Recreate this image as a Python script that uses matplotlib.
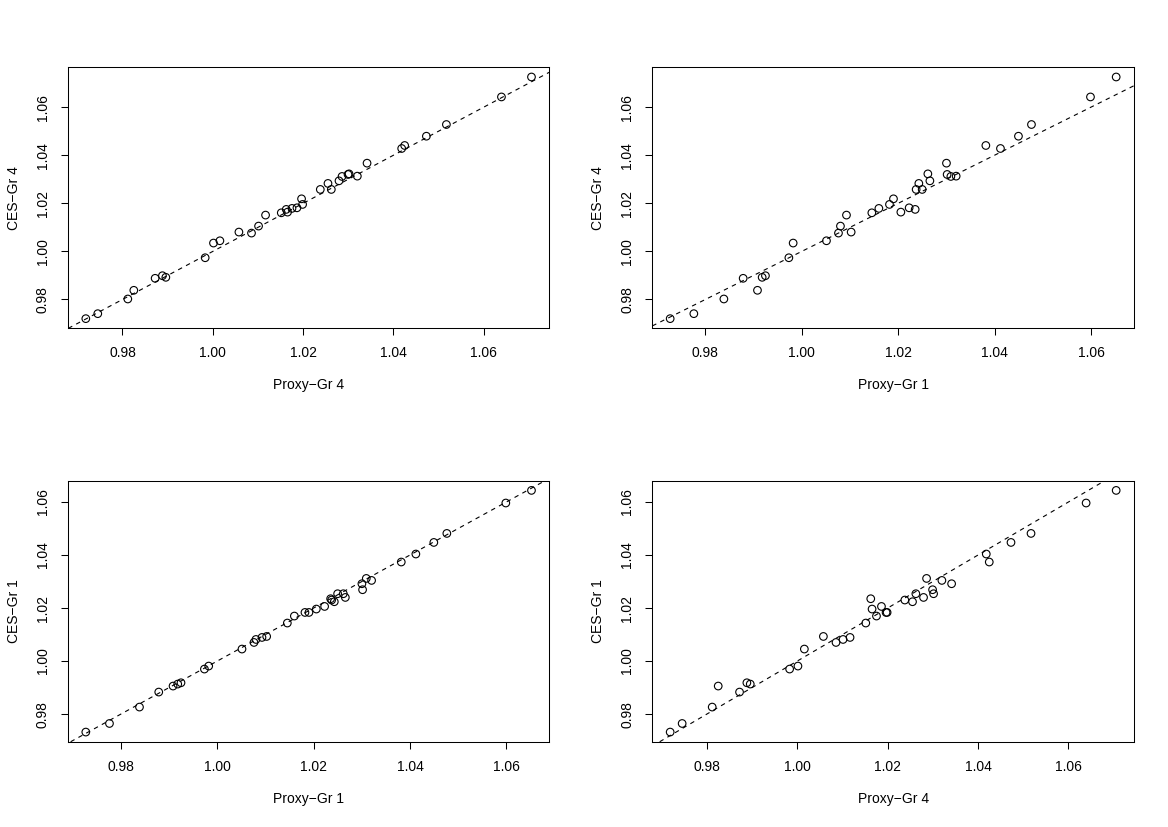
import matplotlib
matplotlib.use("Agg")
import matplotlib.pyplot as plt
import numpy as np

plt.rcParams['font.family'] = ['Liberation Sans', 'DejaVu Sans']

# one entry per observation, same order in all four arrays
proxy_gr4 = [0.97188, 0.97453, 0.98118, 0.98251, 0.98723, 0.98885, 0.98960, 0.99831, 1.00015,
             1.00157, 1.00578, 1.00857, 1.01013, 1.01168, 1.01516, 1.01626, 1.01655, 1.01753,
             1.01863, 1.01965, 1.01988, 1.02380, 1.02550, 1.02624, 1.02794, 1.02861, 1.02994,
             1.03016, 1.03200, 1.03415, 1.04182, 1.04248, 1.04729, 1.05172, 1.06391, 1.07056]
ces_gr4 = [0.97203, 0.97410, 0.98021, 0.98382, 0.98881, 0.98989, 0.98922, 0.99736, 1.00347,
           1.00442, 1.00804, 1.00762, 1.01053, 1.01510, 1.01605, 1.01747, 1.01634, 1.01788,
           1.01813, 1.02187, 1.01954, 1.02577, 1.02827, 1.02577, 1.02935, 1.03117, 1.03200,
           1.03225, 1.03130, 1.03670, 1.04280, 1.04405, 1.04791, 1.05277, 1.06424, 1.07254]
proxy_gr1 = [0.97271, 0.97762, 0.98385, 0.99082, 0.98785, 0.99247, 0.99179, 0.99733, 0.99822,
             1.00513, 1.01025, 1.00762, 1.00803, 1.00928, 1.01454, 1.02353, 1.02056, 1.01600,
             1.02228, 1.01903, 1.01820, 1.02373, 1.02429, 1.02498, 1.02658, 1.03093, 1.03016,
             1.02616, 1.03203, 1.03002, 1.04122, 1.03819, 1.04495, 1.04765, 1.05989, 1.06522]
ces_gr1 = [0.97321, 0.97645, 0.98264, 0.99057, 0.98830, 0.99181, 0.99132, 0.99698, 0.99811,
           1.00453, 1.00928, 1.00702, 1.00815, 1.00891, 1.01434, 1.02351, 1.01962, 1.01698,
           1.02060, 1.01834, 1.01834, 1.02302, 1.02238, 1.02540, 1.02400, 1.03117, 1.02691,
           1.02540, 1.03042, 1.02917, 1.04038, 1.03736, 1.04475, 1.04815, 1.05962, 1.06438]

ticks = [0.98, 1.00, 1.02, 1.04, 1.06]

panels = [
    (proxy_gr4, ces_gr4, "Proxy\u2212Gr 4", "CES\u2212Gr 4"),
    (proxy_gr1, ces_gr4, "Proxy\u2212Gr 1", "CES\u2212Gr 4"),
    (proxy_gr1, ces_gr1, "Proxy\u2212Gr 1", "CES\u2212Gr 1"),
    (proxy_gr4, ces_gr1, "Proxy\u2212Gr 4", "CES\u2212Gr 1"),
]

# axes boxes in figure fractions (left, bottom, width, height)
rects = [
    (0.0582, 0.6030, 0.4121, 0.3156),
    (0.5585, 0.6030, 0.4124, 0.3156),
    (0.0582, 0.1031, 0.4121, 0.3156),
    (0.5585, 0.1031, 0.4124, 0.3156),
]


def r_limits(v):
    # R's default 4% axis extension
    lo, hi = min(v), max(v)
    pad = 0.04 * (hi - lo)
    return lo - pad, hi + pad


fig = plt.figure(figsize=(11.68, 8.27), dpi=100)

for (x, y, xlab, ylab), rect in zip(panels, rects):
    ax = fig.add_axes(rect)
    ax.scatter(x, y, s=30, facecolors='none', edgecolors='black', linewidths=0.8, zorder=3)
    ax.axline((1.0, 1.0), slope=1, color='black', lw=0.8, linestyle=(0, (4, 4)))
    ax.set_xlim(*r_limits(x))
    ax.set_ylim(*r_limits(y))
    ax.set_xticks(ticks)
    ax.set_yticks(ticks)
    ax.set_xticklabels([f"{t:.2f}" for t in ticks])
    ax.set_yticklabels([f"{t:.2f}" for t in ticks], rotation=90, va='center')
    ax.tick_params(direction='out', length=5, width=0.75, labelsize=10, pad=8)
    for s in ax.spines.values():
        s.set_linewidth(0.75)
    ax.set_xlabel(xlab, fontsize=10, labelpad=13)
    ax.set_ylabel(ylab, fontsize=10, labelpad=11)

fig.savefig("out.png", dpi=100)
